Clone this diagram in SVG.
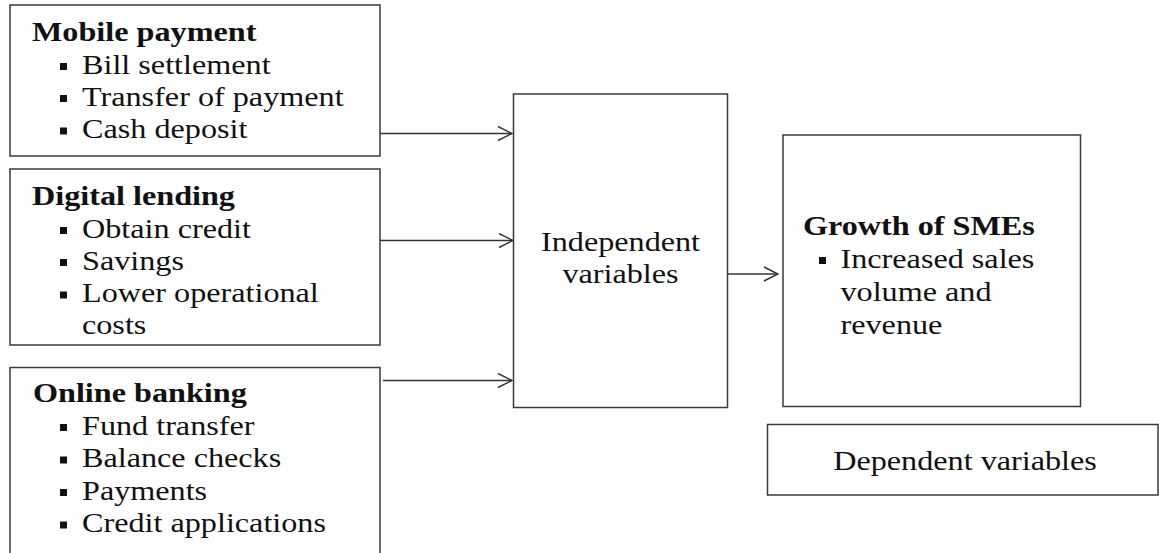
<svg xmlns="http://www.w3.org/2000/svg" width="1159" height="553" viewBox="0 0 1159 553" font-family="'Liberation Serif', serif">
<style>
.box{fill:#fff;stroke:#3a3a3a;stroke-width:1.5}
.t{font-size:28px;fill:#111}
.b{font-weight:bold}
.m{text-anchor:middle}
.bul{fill:#111}
.con{stroke:#333;stroke-width:1.5;fill:none}
</style>
<defs>
<marker id="arr" viewBox="0 0 16 16" refX="15" refY="8" markerWidth="16" markerHeight="16" markerUnits="userSpaceOnUse" orient="auto">
<path d="M1,1 L15,8 L1,15" fill="none" stroke="#333" stroke-width="1.5"/>
</marker>
</defs>
<rect width="1159" height="553" fill="#fff"/>
<g id="connectors">
<line class="con" x1="380" y1="133.5" x2="512" y2="133.5" marker-end="url(#arr)"/>
<line class="con" x1="380" y1="240.5" x2="513" y2="240.5" marker-end="url(#arr)"/>
<line class="con" x1="383" y1="380.5" x2="512" y2="380.5" marker-end="url(#arr)"/>
<line class="con" x1="727" y1="274" x2="778" y2="274" marker-end="url(#arr)"/>
</g>
<g id="mobile-payment">
<rect class="box" x="10" y="5" width="370" height="151"/>
<text class="t b" font-family="Liberation Serif" transform="translate(32,41) scale(1.15,1)">Mobile payment</text>
<rect class="bul" x="60" y="63" width="7" height="7"/>
<text class="t" font-family="Liberation Serif" transform="translate(82,73.5) scale(1.15,1)">Bill settlement</text>
<rect class="bul" x="60" y="95" width="7" height="7"/>
<text class="t" font-family="Liberation Serif" transform="translate(82,106) scale(1.15,1)">Transfer of payment</text>
<rect class="bul" x="60" y="127.5" width="7" height="7"/>
<text class="t" font-family="Liberation Serif" transform="translate(82,138.3) scale(1.15,1)">Cash deposit</text>
</g>
<g id="digital-lending">
<rect class="box" x="10" y="169" width="370" height="176"/>
<text class="t b" font-family="Liberation Serif" transform="translate(32,205) scale(1.15,1)">Digital lending</text>
<rect class="bul" x="60" y="227" width="7" height="7"/>
<text class="t" font-family="Liberation Serif" transform="translate(82,237.5) scale(1.15,1)">Obtain credit</text>
<rect class="bul" x="60" y="259" width="7" height="7"/>
<text class="t" font-family="Liberation Serif" transform="translate(82,269.7) scale(1.15,1)">Savings</text>
<rect class="bul" x="60" y="291.5" width="7" height="7"/>
<text class="t" font-family="Liberation Serif" transform="translate(82,302) scale(1.15,1)">Lower operational</text>
<text class="t" font-family="Liberation Serif" transform="translate(82,334.2) scale(1.15,1)">costs</text>
</g>
<g id="online-banking">
<rect class="box" x="10" y="367.5" width="370" height="200"/>
<text class="t b" font-family="Liberation Serif" transform="translate(33,402) scale(1.15,1)">Online banking</text>
<rect class="bul" x="60" y="424" width="7" height="7"/>
<text class="t" font-family="Liberation Serif" transform="translate(82,434.5) scale(1.15,1)">Fund transfer</text>
<rect class="bul" x="60" y="456.5" width="7" height="7"/>
<text class="t" font-family="Liberation Serif" transform="translate(82,467) scale(1.15,1)">Balance checks</text>
<rect class="bul" x="60" y="489" width="7" height="7"/>
<text class="t" font-family="Liberation Serif" transform="translate(82,499.5) scale(1.15,1)">Payments</text>
<rect class="bul" x="60" y="521.5" width="7" height="7"/>
<text class="t" font-family="Liberation Serif" transform="translate(82,532) scale(1.15,1)">Credit applications</text>
</g>
<g id="independent-variables">
<rect class="box" x="513.5" y="94" width="214" height="313.5"/>
<text class="t m" font-family="Liberation Serif" transform="translate(620.5,250.7) scale(1.15,1)">Independent</text>
<text class="t m" font-family="Liberation Serif" transform="translate(620.5,283) scale(1.15,1)">variables</text>
</g>
<g id="growth-of-smes">
<rect class="box" x="783" y="135" width="297.5" height="271.5"/>
<text class="t b" font-family="Liberation Serif" transform="translate(803,235) scale(1.15,1)">Growth of SMEs</text>
<rect class="bul" x="819" y="257" width="7" height="7"/>
<text class="t" font-family="Liberation Serif" transform="translate(840.5,267.7) scale(1.15,1)">Increased sales</text>
<text class="t" font-family="Liberation Serif" transform="translate(840.5,301) scale(1.15,1)">volume and</text>
<text class="t" font-family="Liberation Serif" transform="translate(840.5,333.5) scale(1.15,1)">revenue</text>
</g>
<g id="dependent-variables">
<rect class="box" x="767.5" y="424.5" width="390.5" height="70.5"/>
<text class="t m" font-family="Liberation Serif" transform="translate(965,470) scale(1.15,1)">Dependent variables</text>
</g>
</svg>
